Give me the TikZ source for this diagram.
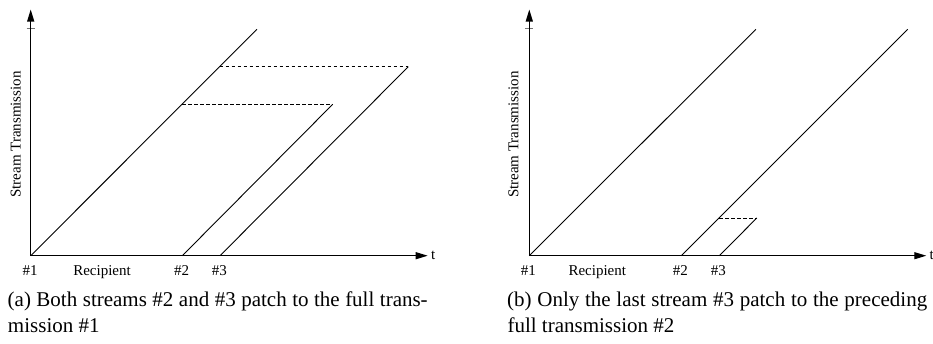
\documentclass[tikz,border=0pt]{standalone}
\usepackage{fontspec}
\setmainfont{Liberation Serif}
\usetikzlibrary{arrows.meta}
\begin{document}
\begin{tikzpicture}[x=1pt,y=-1pt,
  axis/.style={line width=1.1pt, -{Triangle[length=12pt,width=7pt]}},
  stream/.style={line width=0.9pt},
  patch/.style={line width=0.9pt, dash pattern=on 3.5pt off 2.5pt},
  tickmark/.style={line width=1pt, black!55},
  lab/.style={font=\fontsize{15}{18}\selectfont, inner sep=0pt, anchor=base},
  ylab/.style={font=\fontsize{15}{18}\selectfont, inner sep=0pt, anchor=base, rotate=90},
  captext/.style={font=\fontsize{21}{26}\selectfont, inner sep=0pt, anchor=base west}]
\useasboundingbox (0,0) rectangle (933,343);

% ---------------- panel (a) ----------------
\coordinate (aO) at (30.7,255.7);
\coordinate (aY) at (30.7,9.5);
\coordinate (aX) at (427.7,255.7);
\coordinate (aT1) at (26.7,28.7);
\coordinate (aT2) at (34.7,28.7);
\coordinate (a1e) at (257,29.3);
\coordinate (a2s) at (182.3,255.7);
\coordinate (a2e) at (332.7,104.3);
\coordinate (a3s) at (220,255.7);
\coordinate (a3e) at (408.3,66.7);
\coordinate (a2p) at (182.1,104.3);
\coordinate (a3p) at (219.7,66.7);

\draw[tickmark] (aT1) -- (aT2);
\draw[axis] (aO) -- (aY);
\draw[axis] (aO) -- (aX);
\draw[stream] (aO) -- (a1e);
\draw[stream] (a2s) -- (a2e);
\draw[stream] (a3s) -- (a3e);
\draw[patch] (a2p) -- (a2e);
\draw[patch] (a3p) -- (a3e);

\node[lab, anchor=base west] (at) at (430.8,259.3) {t};
\node[ylab] (ay) at (20.5,134.5) {Stream Transmission};
\node[lab] (an1) at (30,275) {\#1};
\node[lab] (arec) at (102,275) {Recipient};
\node[lab] (an2) at (181.7,275) {\#2};
\node[lab] (an3) at (219.3,275) {\#3};
\node[captext] (acap1) at (7.5,306.7) {\makebox[420pt][s]{(a) Both streams \#2 and \#3 patch to the full trans-}};
\node[captext] (acap2) at (7.8,332.7) {mission \#1};

% ---------------- panel (b) ----------------
\coordinate (bO) at (529.3,255.7);
\coordinate (bY) at (529.3,9.5);
\coordinate (bX) at (926.3,255.7);
\coordinate (bT1) at (525.3,28.7);
\coordinate (bT2) at (533.3,28.7);
\coordinate (b1e) at (755.9,29.3);
\coordinate (b2s) at (681.3,255.7);
\coordinate (b2e) at (907.7,29.3);
\coordinate (b3s) at (719.3,255.7);
\coordinate (b3e) at (756.8,218);
\coordinate (b3p) at (719.0,218);

\draw[tickmark] (bT1) -- (bT2);
\draw[axis] (bO) -- (bY);
\draw[axis] (bO) -- (bX);
\draw[stream] (bO) -- (b1e);
\draw[stream] (b2s) -- (b2e);
\draw[stream] (b3s) -- (b3e);
\draw[patch] (b3p) -- (b3e);

\node[lab, anchor=base west] (bt) at (929.4,259.3) {t};
\node[ylab] (by) at (518.3,134.7) {Stream Transmission};
\node[lab] (bn1) at (528.3,275) {\#1};
\node[lab] (brec) at (597.3,275) {Recipient};
\node[lab] (bn2) at (680.3,275) {\#2};
\node[lab] (bn3) at (718.3,275) {\#3};
\node[captext] (bcap1) at (507,306.7) {\makebox[420pt][s]{(b) Only the last stream \#3 patch to the preceding}};
\node[captext] (bcap2) at (507.3,332.7) {full transmission \#2};
\end{tikzpicture}
\end{document}
